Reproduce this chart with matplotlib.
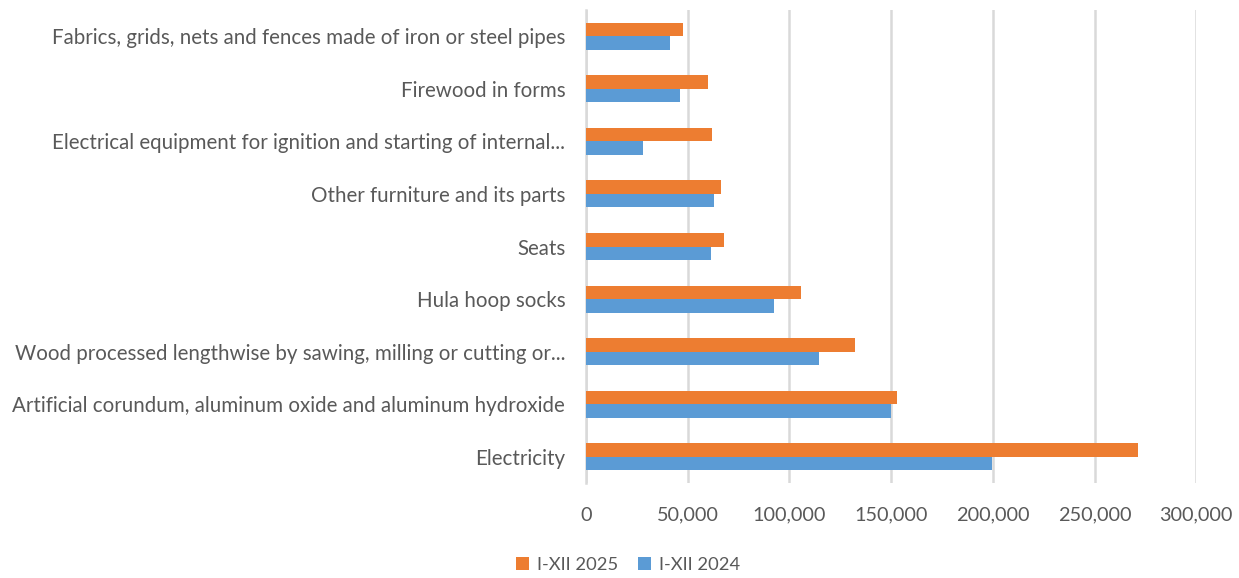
import numpy as np
import matplotlib.pyplot as plt

# 类别（从下到上）
categories = ['Electricity',
              'Artificial corundum, aluminum oxide and aluminum hydroxide',
              'Wood processed lengthwise by sawing, milling or cutting or...',
              'Hula hoop socks',
              'Seats',
              'Other furniture and its parts',
              'Electrical equipment for ignition and starting of internal...',
              'Firewood in forms',
              'Fabrics, grids, nets and fences made of iron or steel pipes']
values_2025 = [271200, 152900, 132000, 105900, 67700, 66500, 61900, 59800, 47500]
values_2024 = [199700, 150100, 114700, 92200, 61300, 63100, 27900, 46400, 41100]
series_names = ['I-XII 2025', 'I-XII 2024']
xticks = [0, 50000, 100000, 150000, 200000, 250000, 300000]

plt.rcParams['font.family'] = ['Lato', 'DejaVu Sans']
text_color = '#595959'

fig = plt.figure(figsize=(12.39, 5.78), dpi=100)
ax = fig.add_axes([0.473, 0.164, 0.4925, 0.819])

y = np.arange(len(categories))
h = 0.257
ax.barh(y + h / 2, values_2025, height=h, color='#ED7D31', label=series_names[0], zorder=3)
ax.barh(y - h / 2, values_2024, height=h, color='#5B9BD5', label=series_names[1], zorder=3)

ax.set_ylim(-0.5, len(categories) - 0.5)
ax.set_xlim(0, 300000)
ax.set_xticks(xticks)
ax.set_xticklabels(['{:,}'.format(v) for v in xticks])
ax.set_yticks(y)
ax.set_yticklabels(categories)

# 网格线和坐标轴样式
ax.grid(axis='x', color='#D9D9D9', linewidth=1.8, zorder=0)
for s in ['top', 'right', 'bottom']:
    ax.spines[s].set_visible(False)
ax.spines['left'].set_color('#D9D9D9')
ax.spines['left'].set_linewidth(1.8)
ax.tick_params(axis='both', length=0, colors=text_color)
ax.tick_params(axis='y', pad=15, labelsize=14.8)
ax.tick_params(axis='x', pad=17, labelsize=14.3)

leg = fig.legend(loc='center', bbox_to_anchor=(0.507, 0.022), ncol=2, frameon=False,
                 fontsize=13.2, handlelength=0.7, handleheight=0.7, columnspacing=1.05,
                 handletextpad=0.45)
for t in leg.get_texts():
    t.set_color(text_color)

fig.savefig('out.png', dpi=100)
